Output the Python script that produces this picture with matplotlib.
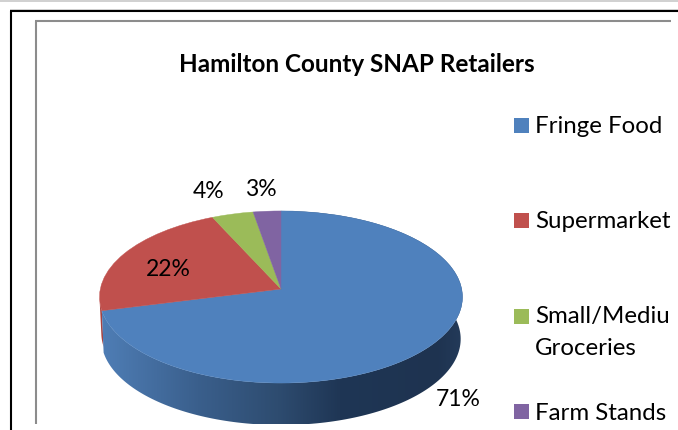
import numpy as np
import matplotlib
matplotlib.use("Agg")
import matplotlib.pyplot as plt
from matplotlib.colors import LinearSegmentedColormap
from matplotlib.patches import Polygon, Rectangle
from matplotlib.transforms import Transform, Bbox

title = "Hamilton County SNAP Retailers"
categories = ["Fringe Food", "Supermarkets", "Small/Medium\nGroceries", "Farm Stands"]
shares = [71, 22.25, 4.05, 2.7]
pct_labels = ["71%", "22%", "4%", "3%"]
colors = ["#4F81BD", "#C0504D", "#9BBB59", "#8064A2"]

W, H = 678, 430
plt.rcParams["font.family"] = ["Lato", "DejaVu Sans"]


class Tilt(Transform):
    """Perspective tilt of the unit pie onto the page (pixel coordinates)."""
    input_dims = 2
    output_dims = 2
    has_inverse = False

    def __init__(self, cx, cy, rx, ry, c):
        super().__init__()
        self.cx, self.cy, self.rx, self.ry, self.c = cx, cy, rx, ry, c

    def transform_non_affine(self, values):
        v = np.asarray(values, dtype=float)
        d = 1 + self.c * v[:, 1]
        return np.column_stack((self.cx + self.rx * v[:, 0] / d,
                                self.cy - self.ry * v[:, 1] / d))


fig = plt.figure(figsize=(W / 100, H / 100), dpi=100, facecolor="white")
ax = fig.add_axes([0, 0, 1, 1])

tilt = Tilt(281, 289, 180.7, 85.3, 0.093)
wedges, _ = ax.pie(shares, colors=colors, startangle=90, counterclock=False,
                   wedgeprops={"linewidth": 0.3})
ax.set_aspect("auto")
ax.set_xlim(0, W)
ax.set_ylim(H, 0)
ax.axis("off")
for w, col in zip(wedges, colors):
    w.set_transform(tilt + ax.transData)
    w.set_edgecolor(col)
    w.set_zorder(5)


def wall(t0, t1, depth=42.0, shrink=0.99):
    t = np.radians(np.linspace(t0, t1, 200))
    top = tilt.transform(np.column_stack((np.sin(t), np.cos(t))))
    low = top[::-1].copy()
    low[:, 0] = 281 + (low[:, 0] - 281) * shrink
    low[:, 1] += depth
    return np.vstack((top, low))


cum = np.cumsum([0] + shares) / sum(shares) * 360
# red sliver at the left end of the side wall
ax.add_patch(Polygon(wall(cum[1], cum[1] + 8, depth=36), closed=True, facecolor="#A9423F",
                     edgecolor="none", zorder=2))
# blue side wall with horizontal shading
shade = LinearSegmentedColormap.from_list(
    "shade", [(0, "#4F7EB6"), (0.27, "#3A5F8C"), (0.49, "#2E4C70"),
              (0.66, "#1F3655"), (0.93, "#1E3350"), (1, "#243B5A")])
img = ax.imshow(np.linspace(0, 1, 256)[None, :], cmap=shade, aspect="auto",
                extent=(100, 463, 430, 200), zorder=3)
clip_poly = Polygon(wall(cum[0], cum[1]), closed=True, transform=ax.transData,
                    facecolor="none", edgecolor="none")
ax.add_patch(clip_poly)
img.set_clip_path(clip_poly)
ax.set_xlim(0, W)
ax.set_ylim(H, 0)

# white strip below the crop of the picture
ax.add_patch(Rectangle((13, 424), W, 6, facecolor="white", edgecolor="none", zorder=6))

# frames
ax.plot([0, W], [0.5, 0.5], color="#C8C8C8", lw=1.2, zorder=7, clip_on=False)
ax.plot([10, W], [9, 9], color="#D8D8D8", lw=0.7, zorder=7)
ax.plot([11, 11], [H, 10.5], color="black", lw=1.5, zorder=7, solid_capstyle="butt")
ax.plot([10, W], [10.5, 10.5], color="black", lw=1.5, zorder=7, solid_capstyle="butt")
ax.plot([35.5, 35.5], [423.5, 21], color="#8C8C8C", lw=1.5, zorder=7, solid_capstyle="butt")
ax.plot([35, 671], [21, 21], color="#8C8C8C", lw=1.5, zorder=7, solid_capstyle="butt")

ax.text(357, 65, title, ha="center", va="center", fontsize=17.5, fontweight="bold",
        color="black", zorder=8)

for lab, (x, y) in zip(pct_labels, [(458, 400), (168, 269), (209, 191), (261, 189)]):
    ax.text(x, y, lab, ha="center", va="center", fontsize=16.5, color="black", zorder=8)

clip = Bbox([[0, 0], [671, 430]])  # picture pixels
marker_tops = [118, 213, 309, 404]
text_tops = [116, 211, 306, 403]
for cat, col, top, ttop in zip(categories, colors, marker_tops, text_tops):
    ax.add_patch(Rectangle((514, top), 15, 15, facecolor=col, edgecolor="none", zorder=8))
    t = ax.text(535, ttop, cat, ha="left", va="top", fontsize=17.3, color="black",
                linespacing=1.65, zorder=8)
    t.set_clip_box(clip)
    t.set_clip_on(True)

fig.savefig("out.png", dpi=100, facecolor="white")
